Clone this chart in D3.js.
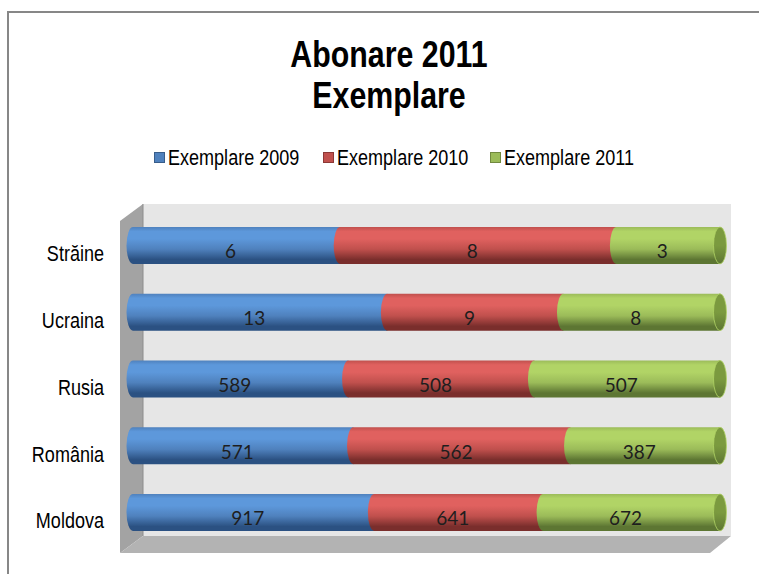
<!DOCTYPE html>
<html>
<head>
<meta charset="utf-8">
<script src="https://cdn.jsdelivr.net/npm/d3@7"></script>
<style>
  body { margin: 0; background: #fff; }
  svg { display: block; }
</style>
</head>
<body>
<svg width="759" height="574"></svg>
<script>
// categories from top to bottom, values per year
const categories = ['Străine', 'Ucraina', 'Rusia', 'România', 'Moldova'];
const seriesNames = ['Exemplare 2009', 'Exemplare 2010', 'Exemplare 2011'];
const values2009 = [6, 13, 589, 571, 917];
const values2010 = [8, 9, 508, 562, 641];
const values2011 = [3, 8, 507, 387, 672];
const titleLines = ['Abonare 2011', 'Exemplare'];

// no Arial Narrow here, so squeeze Liberation Sans horizontally
const sans = '"Liberation Sans", Arial, sans-serif';
const squeeze = 0.82;

// colours for each series: base, light band, dark bottom, end cap
const palette = [
  { base: '#4F81BD', light: '#5D98DB', dark: '#2B5182', stroke: '#385D8A', cap: '#3F6CA3' },
  { base: '#C0504D', light: '#E0615F', dark: '#7A2E2C', stroke: '#8C3836', cap: '#A03F3D' },
  { base: '#9BBB59', light: '#B1D466', dark: '#5D7633', stroke: '#71893F', cap: '#7B9A3F' },
];

const svg = d3.select('svg');

// outer chart border (cut off on the right and bottom like the original)
svg.append('rect')
  .attr('x', 8).attr('y', 12)
  .attr('width', 800).attr('height', 600)
  .attr('fill', 'none')
  .attr('stroke', '#878787')
  .attr('stroke-width', 2);

// title
svg.selectAll('text.title')
  .data(titleLines)
  .enter()
  .append('text')
  .attr('class', 'title')
  .attr('transform', (d, i) => `translate(389,${67 + i * 41}) scale(${squeeze},1)`)
  .attr('text-anchor', 'middle')
  .attr('font-family', sans)
  .attr('font-weight', 'bold')
  .attr('font-size', 37)
  .text((d) => d);

// legend
const legendX = [154, 323, 490];
const legend = svg.selectAll('g.legend')
  .data(seriesNames)
  .enter()
  .append('g')
  .attr('class', 'legend')
  .attr('transform', (d, i) => `translate(${legendX[i]},152)`);
legend.append('rect')
  .attr('x', 0.5).attr('y', 0.5)
  .attr('width', 10).attr('height', 10)
  .attr('fill', (d, i) => palette[i].base)
  .attr('stroke', (d, i) => palette[i].stroke);
legend.append('text')
  .attr('transform', `translate(14,12.5) scale(${squeeze},1)`)
  .attr('font-family', sans)
  .attr('font-size', 22)
  .text((d) => d);

// 3d walls: back, left side, floor
svg.append('rect')
  .attr('x', 143).attr('y', 204)
  .attr('width', 588).attr('height', 332)
  .attr('fill', '#E6E6E6');
svg.append('polygon')
  .attr('points', '120,221 143,204 143,536 120,553')
  .attr('fill', '#A3A3A3');
svg.append('line')
  .attr('x1', 143).attr('y1', 204).attr('x2', 143).attr('y2', 536)
  .attr('stroke', '#8C8C8C');
svg.append('polygon')
  .attr('points', '143,536 731,536 710,553 120,553')
  .attr('fill', '#B3B3B3');

// scales
const x = d3.scaleLinear().domain([0, 1]).range([133, 720]);
const y = d3.scaleBand().domain(categories).range([197.2, 560.7]).padding(0.446);
const bh = y.bandwidth();
const rx = 6.5;

// category labels
svg.selectAll('text.cat')
  .data(categories)
  .enter()
  .append('text')
  .attr('class', 'cat')
  .attr('transform', (d) => `translate(104,${y(d) + bh / 2 + 16}) scale(${squeeze},1)`)
  .attr('text-anchor', 'end')
  .attr('font-family', sans)
  .attr('font-size', 22)
  .text((d) => d);

// cylinder gradients
const defs = svg.append('defs');
palette.forEach((p, i) => {
  const g = defs.append('linearGradient')
    .attr('id', 'cyl' + i)
    .attr('x1', 0).attr('y1', 0).attr('x2', 0).attr('y2', 1);
  [[0, p.base], [0.12, p.light], [0.32, p.light], [0.6, p.base], [0.88, p.dark], [1, p.dark]]
    .forEach(([o, c]) => g.append('stop').attr('offset', o).attr('stop-color', c));
  const c = defs.append('linearGradient')
    .attr('id', 'cap' + i)
    .attr('x1', 0).attr('y1', 0).attr('x2', 0).attr('y2', 1);
  [[0, p.cap], [0.5, p.cap], [1, p.dark]]
    .forEach(([o, col]) => c.append('stop').attr('offset', o).attr('stop-color', col));
});

// stack as share of the row total (100% stacked)
const rows = categories.map((cat, i) => ({
  cat,
  vals: [values2009[i], values2010[i], values2011[i]],
}));
const segments = [];
rows.forEach((r) => {
  const total = d3.sum(r.vals);
  let acc = 0;
  r.vals.forEach((v, s) => {
    segments.push({ cat: r.cat, s, v, x0: acc / total, x1: (acc + v) / total, last: s === r.vals.length - 1 });
    acc += v;
  });
});

const seg = svg.selectAll('g.seg')
  .data(segments)
  .enter()
  .append('g')
  .attr('class', 'seg');

seg.append('path')
  .attr('d', (d) => {
    const t = y(d.cat);
    const b = t + bh;
    const a = x(d.x0);
    const e = x(d.x1);
    return `M${a},${t}L${e},${t}L${e},${b}L${a},${b}A${rx},${bh / 2} 0 0 1 ${a},${t}Z`;
  })
  .attr('fill', (d) => `url(#cyl${d.s})`);

// end cap on the last piece of each cylinder
seg.filter((d) => d.last)
  .append('ellipse')
  .attr('cx', (d) => x(d.x1))
  .attr('cy', (d) => y(d.cat) + bh / 2)
  .attr('rx', rx)
  .attr('ry', bh / 2)
  .attr('fill', (d) => `url(#cap${d.s})`)
  .attr('stroke', (d) => palette[d.s].light)
  .attr('stroke-width', 0.8);

// value labels
seg.append('text')
  .attr('x', (d) => (x(d.x0) + x(d.x1)) / 2 - 6)
  .attr('y', (d) => y(d.cat) + bh / 2 + 13)
  .attr('text-anchor', 'middle')
  .attr('font-family', 'Lato, "Open Sans", sans-serif')
  .attr('font-size', 19)
  .attr('fill', '#1E1E1E')
  .text((d) => d.v);
</script>
</body>
</html>
